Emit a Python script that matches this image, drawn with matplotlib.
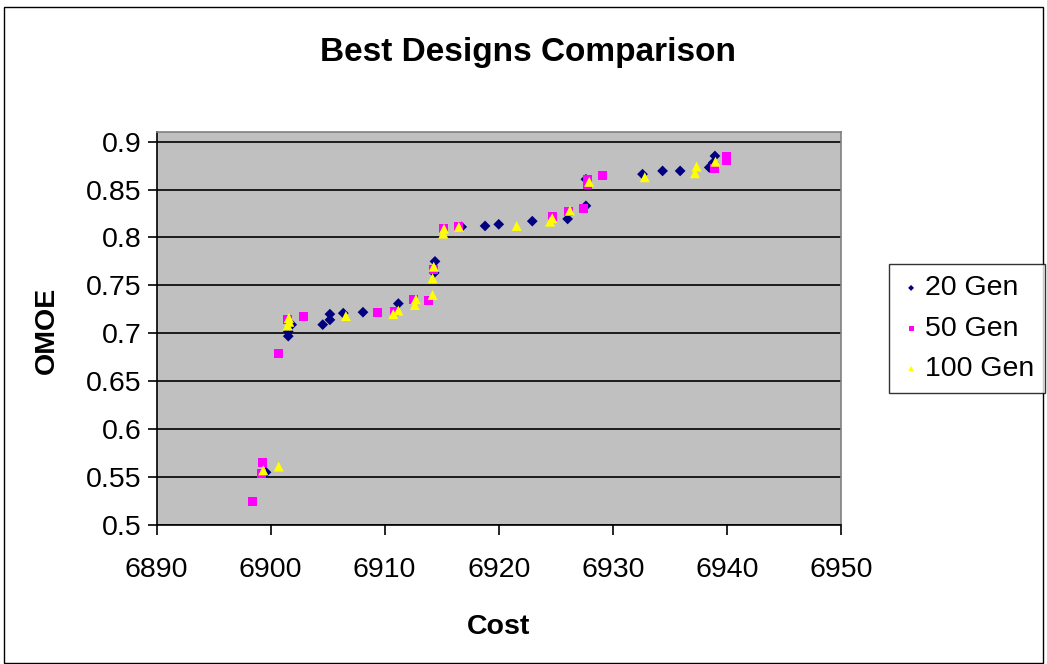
import matplotlib
matplotlib.use("Agg")
import matplotlib.pyplot as plt
from matplotlib.patches import Rectangle

plt.rcParams['font.family'] = ['Liberation Sans', 'DejaVu Sans']

# Cost / OMOE pairs of the best designs found after each number of generations
gen20_cost = [6899.6, 6901.55, 6901.55, 6901.85, 6904.57, 6905.2, 6905.2, 6906.37,
              6908.1, 6911.2, 6914.41, 6914.34, 6916.75, 6918.8, 6920.0, 6922.94,
              6926.04, 6927.64, 6927.64, 6932.6, 6934.36, 6935.9, 6938.45, 6938.8,
              6938.95]
gen20_omoe = [0.555, 0.702, 0.697, 0.709, 0.709, 0.720, 0.714, 0.721,
              0.722, 0.731, 0.775, 0.763, 0.811, 0.812, 0.8137, 0.817,
              0.8193, 0.833, 0.8607, 0.866, 0.8694, 0.8694, 0.873, 0.878,
              0.885]

gen50_cost = [6898.43, 6899.27, 6899.2, 6900.71, 6901.46, 6902.87, 6909.4, 6910.9,
              6912.5, 6913.8, 6914.26, 6915.14, 6916.5, 6924.69, 6926.09, 6927.4,
              6927.76, 6927.76, 6929.07, 6938.9, 6939.97, 6940.0]
gen50_omoe = [0.524, 0.565, 0.554, 0.679, 0.714, 0.717, 0.7215, 0.7225,
              0.735, 0.734, 0.767, 0.8096, 0.811, 0.822, 0.827, 0.8305,
              0.860, 0.8548, 0.8645, 0.872, 0.880, 0.884]

gen100_cost = [6899.36, 6900.71, 6901.64, 6901.6, 6901.5, 6906.6, 6910.75, 6911.2,
               6912.65, 6912.74, 6914.2, 6914.3, 6914.2, 6915.14, 6915.2, 6916.5,
               6921.57, 6924.5, 6924.69, 6926.24, 6927.93, 6932.8, 6937.2, 6937.34,
               6939.0]
gen100_omoe = [0.557, 0.561, 0.712, 0.716, 0.708, 0.718, 0.720, 0.7236,
               0.7295, 0.7355, 0.740, 0.7695, 0.7574, 0.804, 0.809, 0.811,
               0.812, 0.8165, 0.820, 0.828, 0.858, 0.8628, 0.867, 0.874,
               0.879]

x_ticks = [6890, 6900, 6910, 6920, 6930, 6940, 6950]
y_ticks = [0.5, 0.55, 0.6, 0.65, 0.7, 0.75, 0.8, 0.85, 0.9]
y_tick_labels = ['0.5', '0.55', '0.6', '0.65', '0.7', '0.75', '0.8', '0.85', '0.9']

W, H = 1047, 664
fig = plt.figure(figsize=(W / 100, H / 100), dpi=100)
fig.patch.set_facecolor('white')

# outer chart border
fig.patches.append(Rectangle((4 / W, 1 / H), 1039 / W, (H - 8) / H,
                             transform=fig.transFigure, fill=False,
                             edgecolor='black', linewidth=1.0))

ax_left, ax_right, ax_top, ax_bottom = 156.5, 841, 132, 525
ax = fig.add_axes([ax_left / W, 1 - ax_bottom / H,
                   (ax_right - ax_left) / W, (ax_bottom - ax_top) / H])
ax.set_facecolor('#C0C0C0')

ax.scatter(gen20_cost, gen20_omoe, marker='D', s=30, color='#000080',
           edgecolors='none', label='20 Gen', zorder=3)
ax.scatter(gen50_cost, gen50_omoe, marker='s', s=42, color='#FF00FF',
           edgecolors='none', label='50 Gen', zorder=3)
ax.scatter(gen100_cost, gen100_omoe, marker='^', s=52, color='#FFFF00',
           edgecolors='none', label='100 Gen', zorder=3)

ax.set_xlim(6890, 6950)
ax.set_ylim(0.5, 0.91)
ax.set_xticks(x_ticks)
ax.set_xticklabels([str(v) for v in x_ticks])
ax.set_yticks(y_ticks)
ax.set_yticklabels(y_tick_labels)
ax.yaxis.grid(True, color='black', linewidth=1.2, zorder=1)
ax.set_axisbelow(True)

for side in ('top', 'right'):
    ax.spines[side].set_color('#808080')
    ax.spines[side].set_linewidth(1.2)
for side in ('left', 'bottom'):
    ax.spines[side].set_color('black')
    ax.spines[side].set_linewidth(1.2)

ax.tick_params(axis='both', direction='out', width=1.2, labelsize=20.5,
               color='black')
ax.tick_params(axis='y', length=6.5, pad=4)
ax.tick_params(axis='x', length=7, pad=16)

ax.set_xlabel('Cost', fontsize=20.5, fontweight='bold')
ax.xaxis.set_label_coords(0.5, (ax_bottom - 627) / (ax_bottom - ax_top))
ax.xaxis.label.set_va('center')
ax.set_ylabel('OMOE', fontsize=20.5, fontweight='bold')
ax.yaxis.set_label_coords((47 - ax_left) / (ax_right - ax_left),
                          (ax_bottom - 330) / (ax_bottom - ax_top))
ax.yaxis.label.set_va('center')

fig.text(528 / W, 1 - 53 / H, 'Best Designs Comparison', ha='center', va='center',
         fontsize=24, fontweight='bold')

leg = fig.legend(loc='upper left', bbox_to_anchor=(889 / W, 1 - 264 / H),
                 frameon=True, fancybox=False, fontsize=20.5, markerscale=0.55,
                 handletextpad=0.1, borderpad=0.4, labelspacing=0.5,
                 handlelength=0.75, borderaxespad=0)
leg.get_frame().set_edgecolor('black')
leg.get_frame().set_linewidth(1.0)

fig.savefig('out.png', dpi=100)
